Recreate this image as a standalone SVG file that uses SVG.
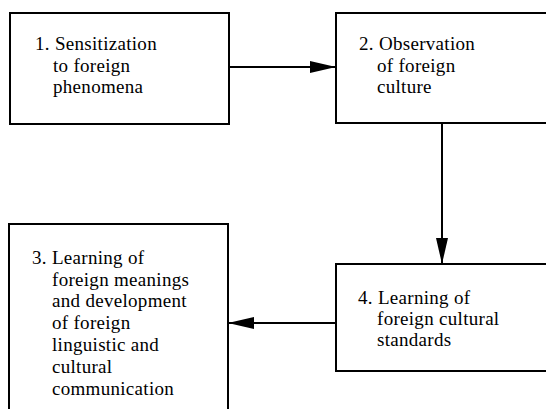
<svg xmlns="http://www.w3.org/2000/svg" width="546" height="409" viewBox="0 0 546 409">
<style>
.box{fill:#fff;stroke:#000;stroke-width:2}
.t{font-family:"Liberation Serif","Times New Roman",serif;font-size:19px;fill:#000;letter-spacing:0.3px}
.c{stroke:#000;stroke-width:2;fill:none}
</style>
<defs>
<marker id="ah" markerUnits="userSpaceOnUse" markerWidth="27" markerHeight="13" refX="26" refY="6" orient="auto">
<path d="M0,0 L26,6 L0,12 Z" fill="#000"/>
</marker>
</defs>
<rect width="546" height="409" fill="#fff"/>
<g id="node1">
<rect class="box" x="10" y="13" width="219" height="111"/>
<text class="t" x="35" y="50">1. Sensitization</text>
<text class="t" x="53" y="72">to foreign</text>
<text class="t" x="53" y="93">phenomena</text>
</g>
<g id="node2">
<rect class="box" x="336" y="13" width="230" height="110"/>
<text class="t" x="359" y="50">2. Observation</text>
<text class="t" x="377" y="72">of foreign</text>
<text class="t" x="377" y="93">culture</text>
</g>
<g id="node3">
<rect class="box" x="9" y="224" width="219" height="200"/>
<text class="t" x="32" y="264">3. Learning of</text>
<text class="t" x="52" y="286">foreign meanings</text>
<text class="t" x="52" y="307">and development</text>
<text class="t" x="52" y="329">of foreign</text>
<text class="t" x="52" y="351">linguistic and</text>
<text class="t" x="52" y="373">cultural</text>
<text class="t" x="52" y="395">communication</text>
</g>
<g id="node4">
<rect class="box" x="336" y="264" width="230" height="107"/>
<text class="t" x="358" y="304">4. Learning of</text>
<text class="t" x="377" y="325">foreign cultural</text>
<text class="t" x="377" y="346">standards</text>
</g>
<g id="connectors">
<line class="c" x1="229" y1="67" x2="336" y2="67" marker-end="url(#ah)"/>
<line class="c" x1="442" y1="123" x2="442" y2="264" marker-end="url(#ah)"/>
<line class="c" x1="336" y1="323" x2="228" y2="323" marker-end="url(#ah)"/>
</g>
</svg>
